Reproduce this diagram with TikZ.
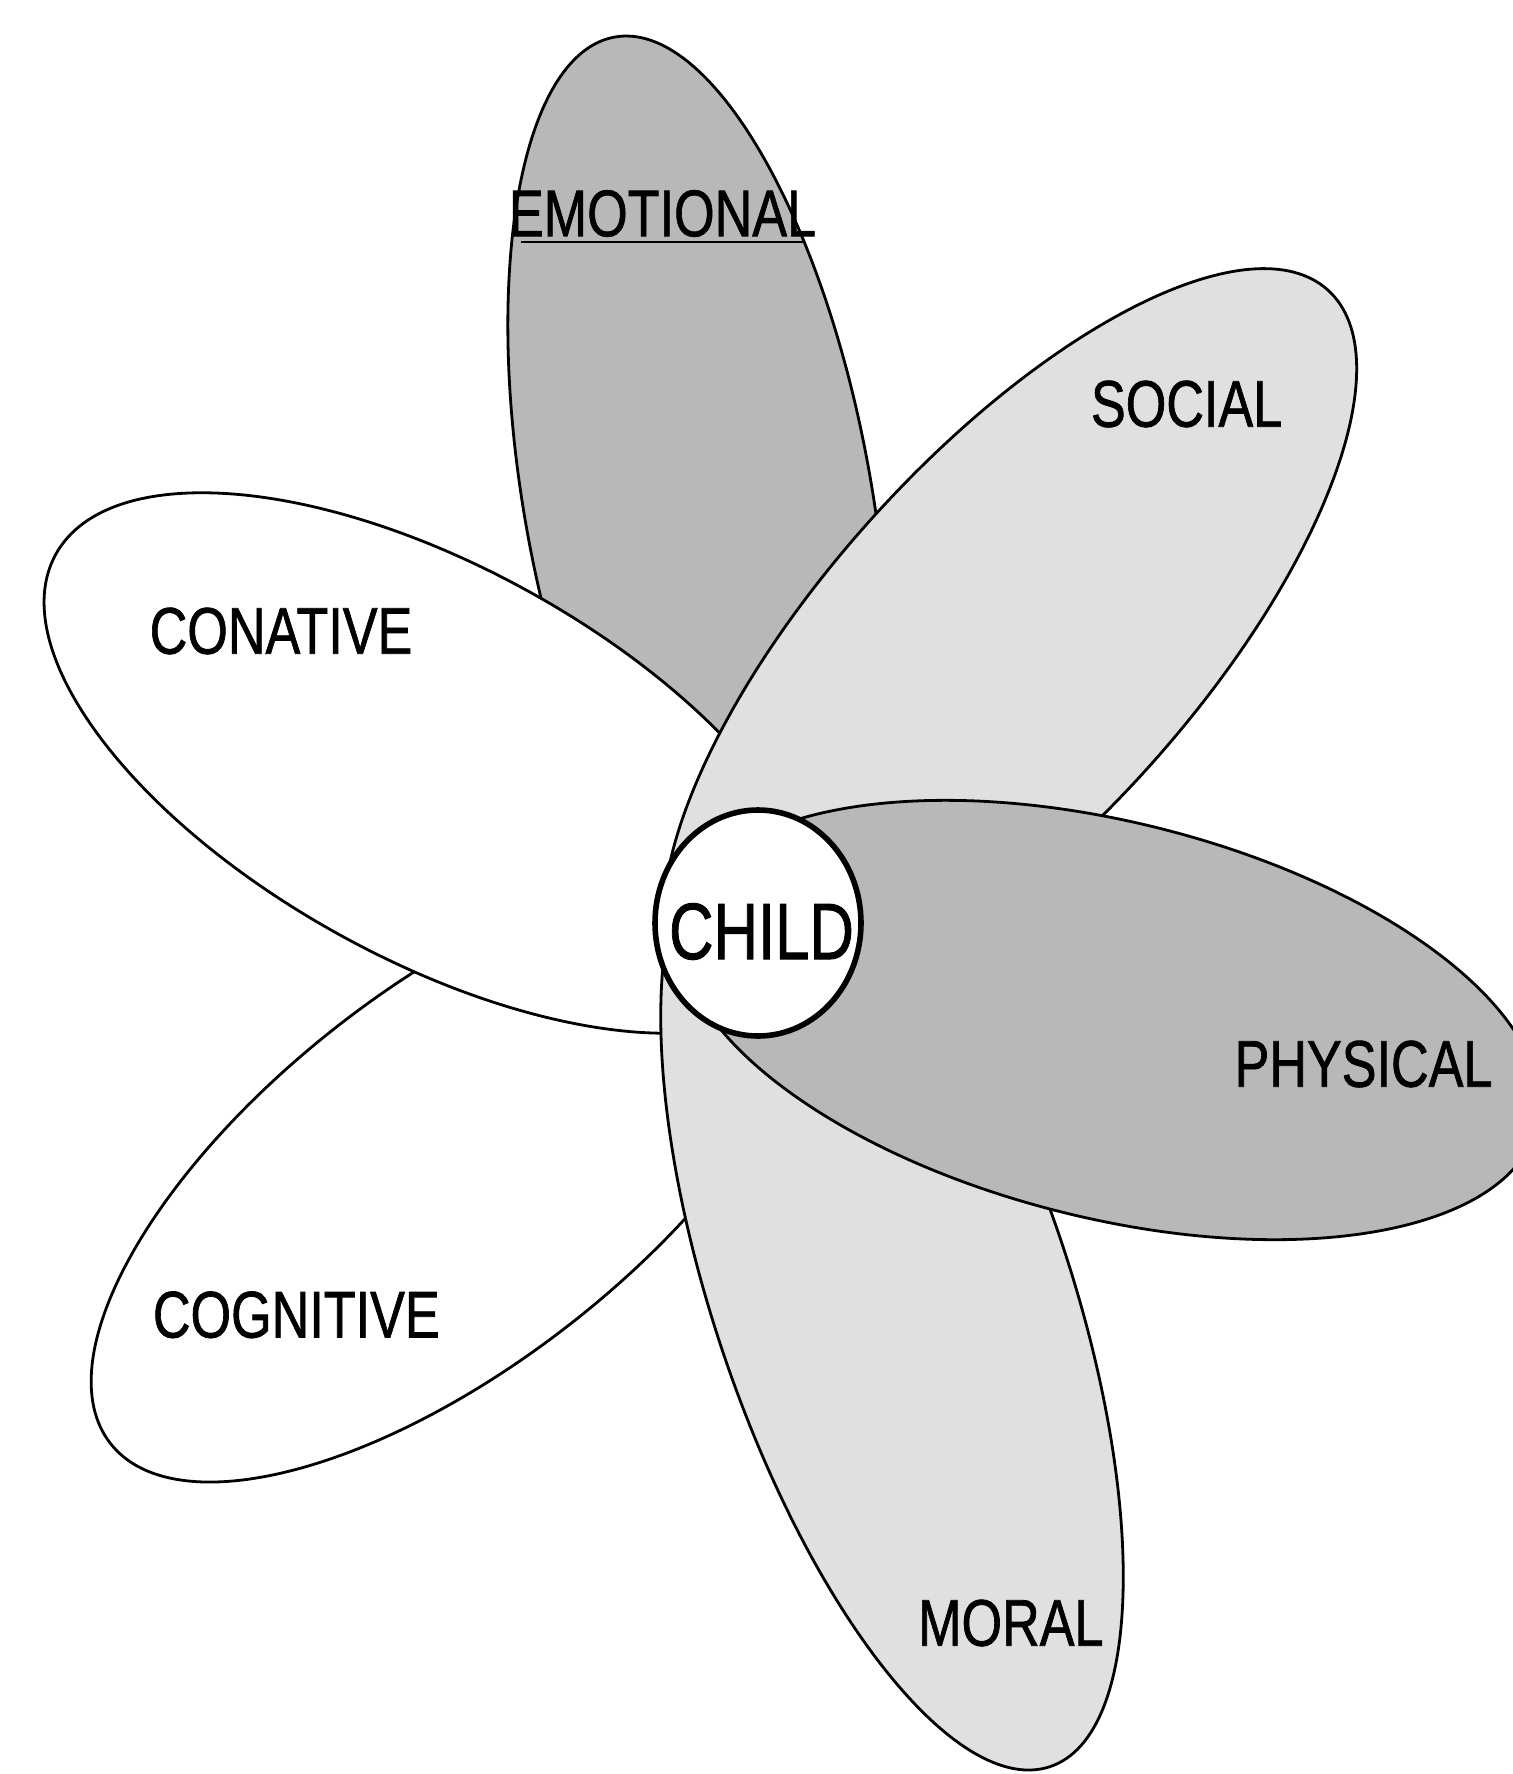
\documentclass[tikz,border=0pt]{standalone}
\usepackage{fontspec}
\setmainfont{Liberation Sans}
\newfontfamily\lblfont{Liberation Sans}[FakeBold=1.2]
\usepackage{graphicx}
\begin{document}
\begin{tikzpicture}[x=0.5pt,y=-0.5pt,
  petal/.style={draw=black, line width=1.4pt, line join=round},
  darkfill/.style={fill=black!28},
  lightfill/.style={fill=black!12},
  plainfill/.style={fill=white},
  lbl/.style={font=\lblfont\fontsize{33}{36}\selectfont, inner sep=0pt, text=black},
  childlbl/.style={font=\lblfont\fontsize{40}{44}\selectfont, inner sep=0pt, text=black}]
\useasboundingbox (0,0) rectangle (1513,1774);
\fill[white] (0,0) rectangle (1513,1774);
\clip (0,0) rectangle (1513,1774);

% centres of the petals and of the child
\coordinate (cog) at (454,1175);
\coordinate (emo) at (698,500.6);
\coordinate (con) at (434,763);
\coordinate (soc) at (1010,643);
\coordinate (mor) at (892,1296.5);
\coordinate (phy) at (1110,1020);
\coordinate (chi) at (758,923);

% petals, back to front
\draw[petal,plainfill,shift={(cog)},rotate=38]    (0,0) ellipse [x radius=436, y radius=189];
\draw[petal,darkfill,shift={(emo)},rotate=-79.8]  (0,0) ellipse [x radius=471, y radius=173.6];
\draw[petal,plainfill,shift={(con)},rotate=-28.9] (0,0) ellipse [x radius=432, y radius=196];
\draw[petal,lightfill,shift={(soc)},rotate=48]    (0,0) ellipse [x radius=475, y radius=186];
\draw[petal,lightfill,shift={(mor)},rotate=-71.4] (0,0) ellipse [x radius=496, y radius=178];
\draw[petal,darkfill,shift={(phy)},rotate=-14]    (0,0) ellipse [x radius=440, y radius=198];

% centre
\draw[line width=2.8pt, fill=white] (chi) ellipse [x radius=103, y radius=113];

% labels
\node[lbl] (lemo) at (662.5,213.5) {\scalebox{0.79}[1]{EMOTIONAL}};
\draw[line width=1pt] ([xshift=6pt,yshift=-2.5pt]lemo.south west) -- ([xshift=-6pt,yshift=-2.5pt]lemo.south east);
\node[lbl] (lsoc) at (1186.6,404) {\scalebox{0.79}[1]{SOCIAL}};
\node[lbl] (lcon) at (281,631) {\scalebox{0.79}[1]{CONATIVE}};
\node[lbl] (lphy) at (1363.5,1064) {\scalebox{0.79}[1]{PHYSICAL}};
\node[lbl] (lcog) at (296.3,1314.8) {\scalebox{0.79}[1]{COGNITIVE}};
\node[lbl] (lmor) at (1010.8,1623) {\scalebox{0.79}[1]{MORAL}};
\node[childlbl] (lchi) at (761.5,931.5) {\scalebox{0.77}[1]{CHILD}};
\end{tikzpicture}
\end{document}
